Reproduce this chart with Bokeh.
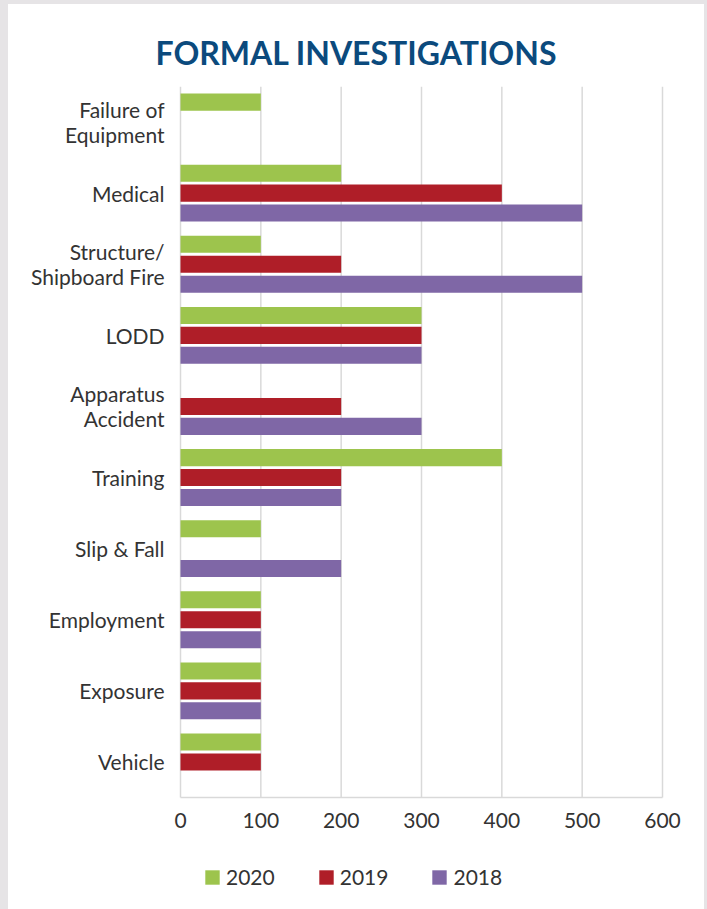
from bokeh.plotting import figure
from bokeh.layouts import column
from bokeh.models import Range1d, FixedTicker, Legend, LegendItem, Title
from bokeh.core.properties import value
from bokeh.embed import file_html
from bokeh.resources import INLINE

categories = ["Failure of\nEquipment", "Medical", "Structure/\nShipboard Fire", "LODD",
              "Apparatus\nAccident", "Training", "Slip & Fall", "Employment", "Exposure", "Vehicle"]
v2020 = [100, 200, 100, 300, 0, 400, 100, 100, 100, 100]
v2019 = [0, 400, 200, 300, 200, 200, 0, 100, 100, 100]
v2018 = [0, 500, 500, 300, 300, 200, 200, 100, 100, 0]
series_names = ["2020", "2019", "2018"]
x_ticks = [0, 100, 200, 300, 400, 500, 600]

colors = ["#9DC44D", "#AF1E28", "#7F67A6"]
FONT = "Lato"
TXT = "#333333"
GRID = "#D9D9D9"
n = len(categories)
ypos = [n - 1 - i for i in range(n)]

# page geometry (pixels): bars span x 180..662 for 0..600, y 86..797 for the 10 rows
px_per_unit = (662 - 180) / 600
frame_left, frame_right = 170, 690
xmin = x_ticks[0] - (180 - frame_left) / px_per_unit
xmax = x_ticks[-1] + (frame_right - 662) / px_per_unit
row_px = (797 - 86) / n
extra = (909 - 797) / row_px

p = figure(width=696, height=905, output_backend="svg", toolbar_location=None,
           x_range=Range1d(xmin, xmax), y_range=Range1d(-0.5 - extra, n - 0.5),
           x_axis_location=None,
           min_border_left=frame_left - 8, min_border_right=704 - frame_right,
           min_border_top=82, min_border_bottom=0)
p.margin = (4, 3, 0, 8)
p.styles = {"background-color": "white"}
p.title = Title(text="FORMAL INVESTIGATIONS", align="left", text_font=FONT,
                text_font_size="32px", text_font_style="bold", text_color="#0B4A7D",
                offset=155 - frame_left, standoff=29)

p.outline_line_color = None
p.background_fill_color = "white"
p.border_fill_color = "white"
p.grid.visible = False

# vertical grid lines and bottom axis line
p.segment(x0=x_ticks, x1=x_ticks, y0=-0.5, y1=n - 0.5, line_color=GRID, line_width=1.5)
p.segment(x0=[x_ticks[0]], x1=[x_ticks[-1]], y0=-0.5, y1=-0.5, line_color=GRID, line_width=1.5)
p.text(x=x_ticks, y=[-0.5] * len(x_ticks), text=[str(t) for t in x_ticks], y_offset=23,
       text_align="center", text_baseline="middle", text_font=value(FONT),
       text_font_size="21px", text_color=TXT)

offsets = [0.28, 0.0, -0.28]
renderers = []
for vals, off, c in zip([v2020, v2019, v2018], offsets, colors):
    ys = [y + off for y in ypos]
    r = p.hbar(y=ys, right=vals, left=0, height=0.24, color=c, line_color=None)
    renderers.append(r)

p.yaxis.ticker = FixedTicker(ticks=ypos)
p.yaxis.major_label_overrides = {y: c for y, c in zip(ypos, categories)}
p.yaxis.axis_line_color = None
p.yaxis.major_tick_line_color = None
p.yaxis.minor_tick_line_color = None
p.yaxis.major_label_text_font = FONT
p.yaxis.major_label_text_font_size = "21px"
p.yaxis.major_label_text_color = TXT
p.yaxis.major_label_text_line_height = 1.0
p.yaxis.major_label_standoff = 0

legend = Legend(items=[LegendItem(label=s, renderers=[r]) for s, r in zip(series_names, renderers)],
                orientation="horizontal", location=(203 - frame_left, 20),
                label_text_font=FONT, label_text_font_size="21px", label_text_color=TXT,
                border_line_color=None, background_fill_alpha=0, glyph_width=18, glyph_height=18,
                spacing=42, label_standoff=5, padding=0, margin=0)
p.add_layout(legend, "center")

layout = column(p, spacing=0, styles={"background-color": "#E6E4E6"})

open("out.html", "w").write(file_html(layout, INLINE))
